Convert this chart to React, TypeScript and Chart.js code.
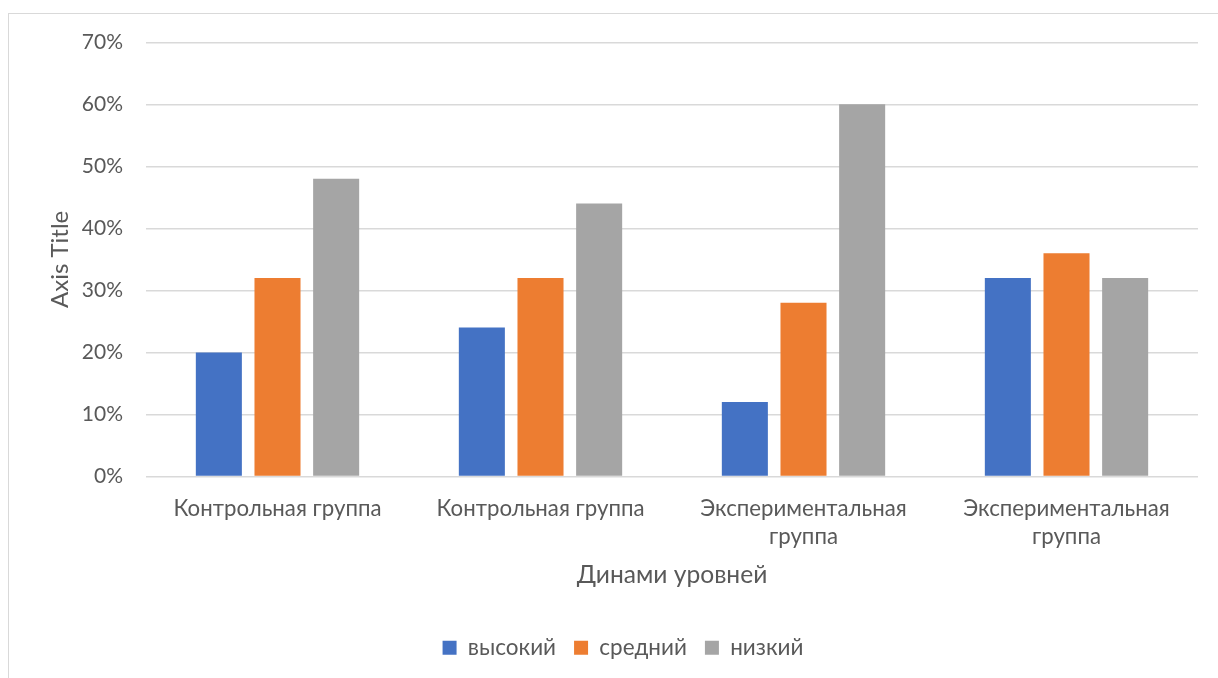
import React, { useEffect, useRef } from 'react';
import { Chart, registerables } from 'chart.js';

Chart.register(...registerables);

const categories: (string | string[])[] = [
  'Контрольная группа',
  'Контрольная группа',
  ['Экспериментальная', 'группа'],
  ['Экспериментальная', 'группа'],
];
const seriesNames = ['высокий', 'средний', 'низкий'];
const highValues = [20, 24, 12, 32];
const midValues = [32, 32, 28, 36];
const lowValues = [48, 44, 60, 32];
const yMin = 0;
const yMax = 70;
const yStep = 10;
const xAxisTitle = 'Динами уровней';
const yAxisTitle = 'Axis Title';

const colors = ['#4472C4', '#ED7D31', '#A5A5A5'];
const textColor = '#595959';
const FONT = 'Lato, "Open Sans", sans-serif';

export default function App() {
  const ref = useRef<HTMLCanvasElement>(null);
  useEffect(() => {
    const chart = new Chart(ref.current!, {
      type: 'bar',
      data: {
        labels: categories,
        datasets: [highValues, midValues, lowValues].map((d, i) => ({
          label: seriesNames[i],
          data: d,
          backgroundColor: colors[i],
          borderWidth: 0,
          categoryPercentage: 0.669,
          barPercentage: 0.785,
        })),
      },
      options: {
        responsive: false,
        animation: false,
        layout: { padding: { left: 39, right: 42, top: 28, bottom: 9 } },
        plugins: {
          legend: {
            position: 'bottom',
            labels: {
              boxWidth: 14,
              boxHeight: 14,
              padding: 18,
              color: textColor,
              font: { family: FONT, size: 22.5 },
            },
          },
          tooltip: { enabled: false },
        },
        scales: {
          x: {
            grid: { display: false, drawTicks: false },
            border: { display: false },
            ticks: {
              color: textColor,
              font: { family: FONT, size: 22.25, lineHeight: 1.26 },
              padding: 18.5,
              autoSkip: false,
              maxRotation: 0,
              minRotation: 0,
            },
            title: {
              display: true,
              text: xAxisTitle,
              color: textColor,
              font: { family: FONT, size: 24.6 },
              padding: { top: 0, bottom: 28.7 },
            },
            afterFit: (s: any) => {
              s.height = 142;
            },
          },
          y: {
            min: yMin,
            max: yMax,
            ticks: {
              stepSize: yStep,
              callback: (v: any) => v + '%',
              padding: 23,
              color: textColor,
              font: { family: FONT, size: 21, lineHeight: 0.5 },
            },
            grid: { color: '#d9d9d9', lineWidth: 1.5, drawTicks: false },
            border: { display: false },
            title: {
              display: true,
              text: yAxisTitle,
              color: textColor,
              font: { family: FONT, size: 24, lineHeight: 1 },
              padding: { top: 0, bottom: 0 },
            },
            afterFit: (s: any) => {
              s.width = 98;
            },
          },
        },
      },
    });
    return () => chart.destroy();
  }, []);
  return (
    <div
      style={{
        position: 'absolute',
        left: 8,
        top: 13,
        width: 1210,
        height: 665,
        borderTop: '1px solid #d9d9d9',
        borderLeft: '1px solid #d9d9d9',
        boxSizing: 'border-box',
        background: '#fff',
        overflow: 'hidden',
      }}
    >
      <canvas ref={ref} width={1231} height={664} style={{ display: 'block', width: 1231, height: 664 }} />
    </div>
  );
}
